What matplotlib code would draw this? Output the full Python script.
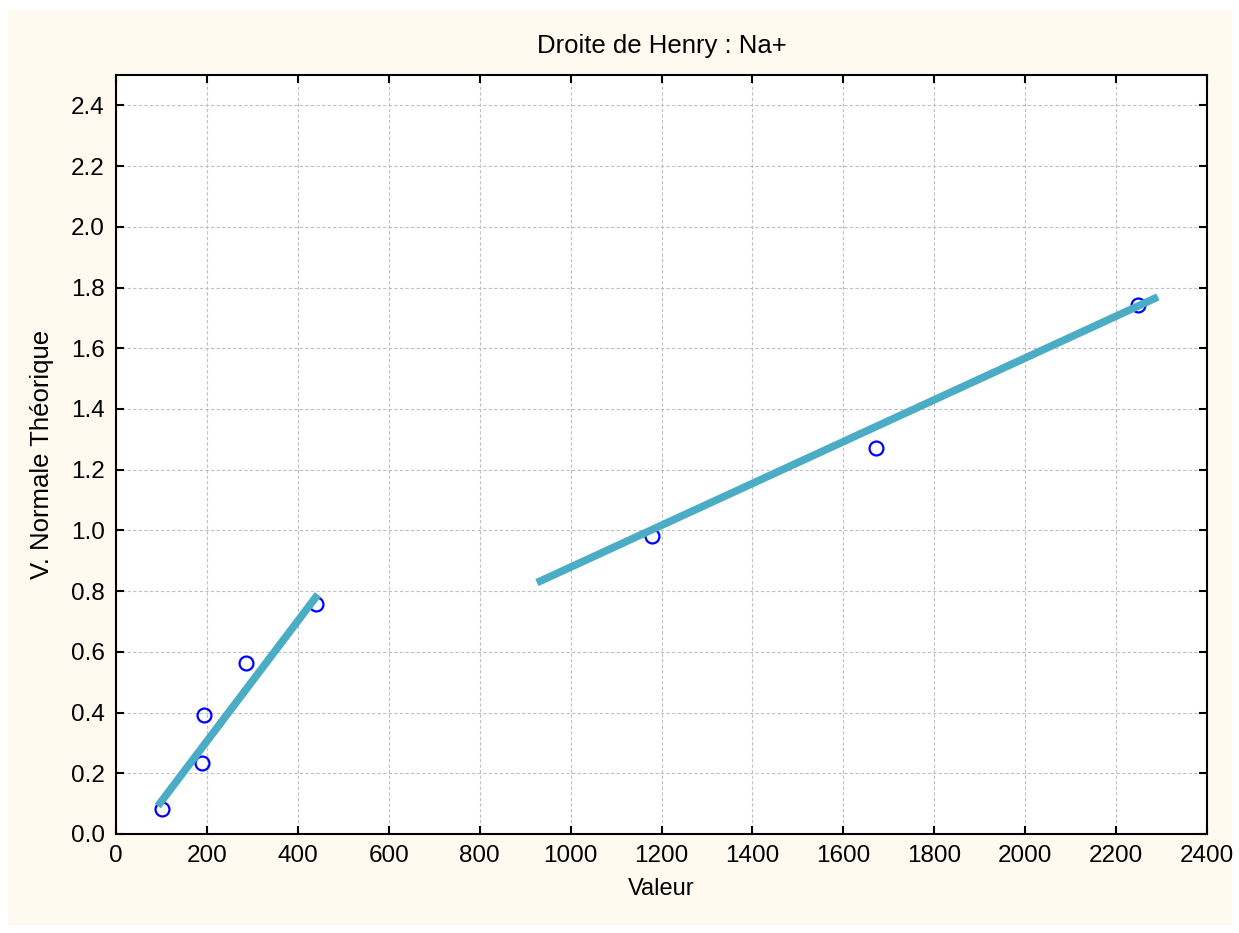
import matplotlib.pyplot as plt
from matplotlib.patches import Rectangle

plt.rcParams['font.family'] = ['Liberation Sans', 'DejaVu Sans']

# observed values
valeur = [101, 189, 194, 286, 440, 1179, 1672, 2248]
normale = [0.083, 0.234, 0.393, 0.564, 0.756, 0.980, 1.271, 1.743]

# fitted segments
fit1_x = [92, 444]
fit1_y = [0.092, 0.789]
fit2_x = [926, 2292]
fit2_y = [0.828, 1.769]

xticks = list(range(0, 2401, 200))
yticks = [round(0.2 * i, 1) for i in range(13)]

fig = plt.figure(figsize=(12.39, 9.33), dpi=100)
fig.patch.set_facecolor('white')
fig.patches.append(Rectangle((8 / 1239, 8 / 933), 1224 / 1239, 915 / 933,
                             transform=fig.transFigure, facecolor='#fffaf0',
                             edgecolor='none', zorder=-10))

ax = fig.add_axes([116 / 1239, (933 - 834) / 933, (1207 - 116) / 1239, (834 - 75) / 933])
ax.set_facecolor('white')

ax.plot(fit1_x, fit1_y, color='#4bacc6', lw=5.5, solid_capstyle='butt', zorder=3)
ax.plot(fit2_x, fit2_y, color='#4bacc6', lw=5.5, solid_capstyle='butt', zorder=3)
ax.plot(valeur, normale, 'o', mfc='none', mec='#0000ff', ms=10, mew=1.6, zorder=2)

ax.set_xlim(0, 2400)
ax.set_ylim(0, 2.5)
ax.set_xticks(xticks)
ax.set_yticks(yticks)
ax.set_yticklabels([f'{v:.1f}' for v in yticks])
ax.grid(True, color='#c0c0c0', linestyle=(0, (3, 2)), lw=0.8)
ax.set_axisbelow(True)

ax.tick_params(direction='in', length=6, width=1.5, labelsize=17.5, top=True, right=True,
               pad=8)
for s in ax.spines.values():
    s.set_linewidth(1.5)

ax.set_title('Droite de Henry : Na+', fontsize=18.5, pad=16)
ax.set_xlabel('Valeur', fontsize=17, labelpad=8)
ax.set_ylabel('V. Normale Théorique', fontsize=18.5, labelpad=12)

fig.savefig('out.png', dpi=100, facecolor=fig.get_facecolor())
